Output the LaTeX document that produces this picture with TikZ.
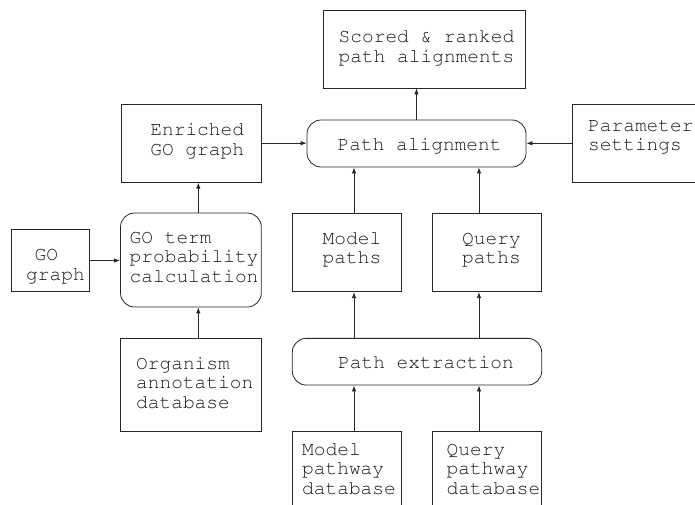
\documentclass[tikz,border=0pt]{standalone}
\usepackage[T1]{fontenc}
\usepackage{courier}
\usetikzlibrary{arrows.meta}
\begin{document}
\begin{tikzpicture}[x=1pt,y=-1pt,
  box/.style={draw=black!85, line width=0.8pt, inner sep=0pt},
  rbox/.style={box, rounded corners=14pt},
  txt/.style={anchor=base west, inner sep=0pt, align=left, text=black!90,
    font=\fontsize{19.5}{19.5}\selectfont\ttfamily},
  arr/.style={draw=black!85, line width=0.8pt, -{Latex[length=6pt,width=4.5pt]}}]
\useasboundingbox (0,0) rectangle (695,504);
% boxes
\node[box, minimum width=202pt, minimum height=78pt] (scored) at (424.4,48.9) {};
\node[box, minimum width=140.5pt, minimum height=78pt] (enr) at (191.2,143.2) {};
\node[rbox, minimum width=219pt, minimum height=47pt] (pa) at (416.5,143.5) {};
\node[box, minimum width=147.5pt, minimum height=78pt] (param) at (646.3,143.3) {};
\node[box, minimum width=78.3pt, minimum height=62.4pt] (gog) at (50.2,260.5) {};
\node[rbox, minimum width=140.8pt, minimum height=94pt] (got) at (190.9,260) {};
\node[box, minimum width=108.7pt, minimum height=78.4pt] (mp) at (346.7,252.5) {};
\node[box, minimum width=108.3pt, minimum height=78.4pt] (qp) at (486.9,252.5) {};
\node[box, minimum width=140.6pt, minimum height=93.4pt] (org) at (191,385) {};
\node[rbox, minimum width=249.4pt, minimum height=46.7pt] (pe) at (417,361.7) {};
\node[box, minimum width=108.7pt, minimum height=108.6pt] (mdb) at (346.7,486) {};
\node[box, minimum width=108.3pt, minimum height=108.6pt] (qdb) at (486.9,486) {};
% texts (anchor at baseline of the last line)
\node[txt] (scoredt) at (338.5,62.2) {Scored \& ranked\\path alignments};
\node[txt] (enrt) at (150.2,155.2) {Enriched\\GO graph};
\node[txt] (pat) at (337.5,150) {Path alignment};
\node[txt] (paramt) at (588,150.5) {Parameter\\settings};
\node[txt] (gogt1) at (34.5,260.5) {GO};
\node[txt] (gogt2) at (26,280) {graph};
\node[txt] (gott) at (129.5,282.3) {GO term\\probability\\calculation};
\node[txt] (mpt) at (322.5,263.8) {Model\\paths};
\node[txt] (qpt) at (462,263.8) {Query\\paths};
\node[txt] (orgt) at (136,408.3) {Organism\\annotation\\database};
\node[txt] (pet) at (338,368.3) {Path extraction};
\node[txt] (mdbt) at (302,494) {Model\\pathway\\database};
\node[txt] (qdbt) at (446.5,494) {Query\\pathway\\database};
% columns
\coordinate (cg) at ([xshift=7.4pt]got.center);
\coordinate (c1) at ([xshift=7.3pt]mp.center);
\coordinate (c2) at ([xshift=-7.9pt]qp.center);
% connectors
\draw[arr] (pa.north) -- (pa.north |- scored.south);
\draw[arr] (enr.east) -- (enr.east -| pa.west);
\draw[arr] (param.west) -- (param.west -| pa.east);
\draw[arr] (gog.east) -- (gog.east -| got.west);
\draw[arr] (cg |- got.north) -- (cg |- enr.south);
\draw[arr] (cg |- org.north) -- (cg |- got.south);
\draw[arr] (c1 |- mp.north) -- (c1 |- pa.south);
\draw[arr] (c2 |- qp.north) -- (c2 |- pa.south);
\draw[arr] (c1 |- pe.north) -- (c1 |- mp.south);
\draw[arr] (c2 |- pe.north) -- (c2 |- qp.south);
\draw[arr] (c1 |- mdb.north) -- (c1 |- pe.south);
\draw[arr] (c2 |- qdb.north) -- (c2 |- pe.south);
\end{tikzpicture}
\end{document}
